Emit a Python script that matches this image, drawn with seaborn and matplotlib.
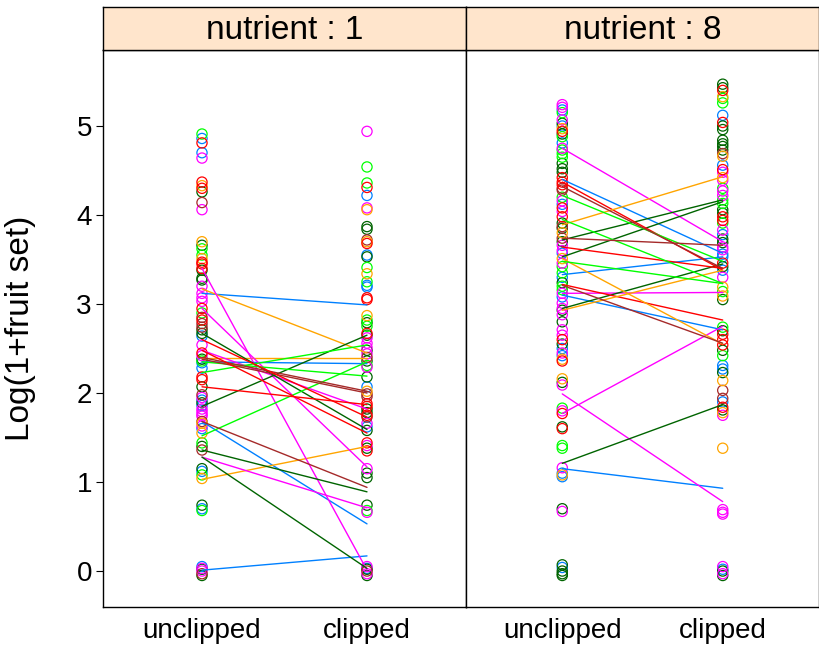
import numpy as np
import pandas as pd
import seaborn as sns
import matplotlib.pyplot as plt

# lattice default superpose colours, keyed by a letter
palette = {"B": "#0080ff", "M": "#ff00ff", "D": "#006400", "R": "#ff0000",
           "O": "#ffa500", "G": "#00ff00", "N": "#a52a2a"}
treatments = ["unclipped", "clipped"]
panel_titles = ["nutrient : 1", "nutrient : 8"]

# observed points: value, colour letter
p1_unclipped_y = [4.91, 4.86, 4.81, 4.70, 4.64, 4.37, 4.33, 4.30, 4.26, 4.14, 4.06, 3.70, 3.66, 3.62,
                  3.55, 3.51, 3.47, 3.45, 3.40, 3.38, 3.29, 3.27, 3.20, 3.12, 3.07, 3.03, 2.95, 2.90,
                  2.85, 2.82, 2.78, 2.74, 2.71, 2.67, 2.64, 2.54, 2.45, 2.42, 2.38, 2.36, 2.34, 2.28,
                  2.18, 2.15, 2.07, 1.98, 1.95, 1.92, 1.89, 1.86, 1.82, 1.79, 1.76, 1.74, 1.68, 1.66,
                  1.63, 1.60, 1.55, 1.44, 1.40, 1.36, 1.15, 1.12, 1.08, 1.04, 0.74, 0.70, 0.68, 0.05,
                  0.02, 0.00, -0.03, -0.05, 0.03]
p1_unclipped_c = list("GBRBMRORDNMODGGORRRDDDMMMMRGNRNNDDBMRMDGBBRRDNMBDBMMMMNOMBOGDNDBGODBGBDMNDM")

p1_clipped_y = [4.94, 4.54, 4.36, 4.31, 4.22, 4.08, 4.06, 3.87, 3.84, 3.72, 3.70, 3.68, 3.55, 3.53,
                3.41, 3.34, 3.25, 3.21, 3.19, 3.07, 3.05, 2.87, 2.82, 2.79, 2.75, 2.67, 2.65, 2.62,
                2.56, 2.51, 2.48, 2.44, 2.40, 2.36, 2.31, 2.29, 2.18, 2.07, 2.02, 1.99, 1.96, 1.88,
                1.85, 1.82, 1.78, 1.75, 1.73, 1.66, 1.62, 1.58, 1.44, 1.41, 1.38, 1.35, 1.15, 1.10,
                1.05, 0.74, 0.68, 0.66, 0.05, 0.02, 0.00, -0.03, -0.05, 0.03]
p1_clipped_c = list("MGGRBMODDNORBDGOGBBRROGDGRDMMMDMNDGMDBONNRRDDRNMBDRMDRMDDDGMMDNMDB")

p2_unclipped_y = [5.24, 5.21, 5.18, 5.15, 5.07, 5.03, 5.00, 4.97, 4.94, 4.91, 4.88, 4.81, 4.75, 4.73,
                  4.69, 4.65, 4.58, 4.52, 4.48, 4.42, 4.37, 4.34, 4.30, 4.28, 4.20, 4.16, 4.12, 4.08,
                  4.04, 3.98, 3.91, 3.87, 3.85, 3.80, 3.74, 3.70, 3.66, 3.60, 3.57, 3.51, 3.46, 3.42,
                  3.35, 3.30, 3.24, 3.20, 3.16, 3.12, 3.08, 3.01, 2.95, 2.93, 2.88, 2.80, 2.71, 2.65,
                  2.60, 2.55, 2.50, 2.45, 2.42, 2.38, 2.36, 2.16, 2.12, 2.09, 1.83, 1.80, 1.77, 1.62,
                  1.60, 1.41, 1.38, 1.16, 1.10, 1.06, 1.08, 0.70, 0.67, 0.07, 0.04, 0.00, -0.03, -0.05]
p2_unclipped_c = list("MMBGMDBORDGBMGGGDDDRRRNNGMBRMRDNDONDMMBOMGGBDGGMBMMDMDMMRDBMBORODMGMRDRGGMBBODMDBDDD")

p2_clipped_y = [5.47, 5.43, 5.40, 5.33, 5.31, 5.26, 5.12, 5.04, 5.00, 4.96, 4.84, 4.80, 4.77, 4.73,
                4.69, 4.66, 4.56, 4.51, 4.48, 4.42, 4.39, 4.30, 4.27, 4.22, 4.17, 4.13, 4.06, 4.02,
                3.98, 3.94, 3.91, 3.83, 3.78, 3.73, 3.69, 3.64, 3.61, 3.56, 3.53, 3.46, 3.42, 3.38,
                3.30, 3.19, 3.14, 3.09, 3.05, 2.74, 2.70, 2.66, 2.60, 2.54, 2.48, 2.42, 2.31, 2.27,
                2.23, 2.14, 2.03, 1.94, 1.90, 1.84, 1.81, 1.78, 1.75, 1.38, 0.69, 0.66, 0.64, 0.05,
                0.02, 0.00, -0.03, -0.05]
p2_clipped_c = list("DDROGGBRDDDDDDNOBRMOMGMMGGDDRRGMBDDMMBBRDBMOGODGDRRRDGBBDONNBRDOMOMMMMBDMD")

# genotype means (unclipped -> clipped), one line per genotype
p1_line_c = list("BBBBOOOMMMMDDDDGGGNNNRRR")
p1_line_start = [3.12, 2.35, 1.68, 0.01, 3.17, 2.39, 1.03, 3.40, 2.95, 2.48, 1.28, 2.67,
                 1.85, 1.36, 1.28, 2.23, 2.35, 1.52, 2.40, 2.38, 1.68, 2.60, 2.48, 2.07]
p1_line_end = [2.99, 2.33, 0.53, 0.17, 2.45, 2.39, 1.40, 0.01, 1.17, 1.82, 0.71, 1.59,
               2.65, 0.89, 0.03, 2.54, 2.19, 2.35, 2.02, 2.00, 0.94, 1.73, 1.55, 1.87]

p2_line_c = list("BBBBMMMMDDDDRRROOOGGGNNN")
p2_line_start = [4.40, 3.33, 3.10, 1.15, 4.75, 3.12, 1.77, 1.99, 3.72, 3.53, 2.95, 1.21,
                 4.37, 3.64, 3.22, 3.89, 3.51, 2.93, 4.22, 3.95, 3.48, 4.32, 3.74, 3.21]
p2_line_end = [3.57, 3.53, 2.71, 0.93, 3.70, 3.13, 2.75, 0.78, 4.17, 4.15, 3.45, 1.87,
               3.38, 3.40, 2.82, 4.43, 2.55, 3.38, 3.48, 3.23, 3.23, 3.40, 3.66, 2.56]

sns.set_theme(style="white")
plt.rcParams["font.family"] = ["Liberation Sans", "DejaVu Sans"]
plt.rcParams["text.color"] = "black"
plt.rcParams["axes.labelcolor"] = "black"
plt.rcParams["xtick.color"] = "black"
plt.rcParams["ytick.color"] = "black"

fig = plt.figure(figsize=(8.2, 6.52), dpi=100)
W, H = 820, 652
left, mid, right = 103 / W, 466 / W, 819 / W
bottom, top, strip_top = 1 - 607 / H, 1 - 50 / H, 1 - 7 / H

panels = [
    (p1_unclipped_y, p1_unclipped_c, p1_clipped_y, p1_clipped_c, p1_line_c, p1_line_start, p1_line_end),
    (p2_unclipped_y, p2_unclipped_c, p2_clipped_y, p2_clipped_c, p2_line_c, p2_line_start, p2_line_end),
]
edges = [(left, mid), (mid, right)]

for i, (uy, uc, cy, cc, lc, ls, le) in enumerate(panels):
    x0, x1 = edges[i]
    ax = fig.add_axes([x0, bottom, x1 - x0, top - bottom])
    pts = pd.DataFrame({
        "treatment": [treatments[0]] * len(uy) + [treatments[1]] * len(cy),
        "value": uy + cy,
        "col": uc + cc,
    })
    # fix category order first
    ax.plot(treatments, [np.nan, np.nan])
    for key, grp in pts.groupby("col"):
        ax.scatter(grp["treatment"], grp["value"], s=54, facecolors="none",
                   edgecolors=palette[key], linewidths=0.9, zorder=2)
    lines = pd.DataFrame({"gen": np.repeat(np.arange(len(lc)), 2),
                          "treatment": treatments * len(lc),
                          "value": np.ravel(np.column_stack([ls, le])),
                          "col": np.repeat(lc, 2)})
    for g, grp in lines.groupby("gen"):
        sns.lineplot(data=grp, x="treatment", y="value", color=palette[grp["col"].iloc[0]],
                     linewidth=1.0, sort=False, estimator=None, ax=ax, zorder=3)
    ax.set_xlim(-0.6, 1.6)
    ax.set_ylim(-0.404, 5.854)
    ax.set_xlabel("")
    ax.set_ylabel("")
    ax.tick_params(axis="x", length=0, pad=8, labelsize=20)
    if i == 0:
        ax.set_yticks(range(6))
        ax.tick_params(axis="y", left=True, length=5, width=0.8, pad=3, labelsize=20, direction="out")
        ax.set_ylabel("Log(1+fruit set)", fontsize=24)
        ax.yaxis.set_label_coords(-0.185, 0.5)
    else:
        ax.set_yticks([])
    for sp in ax.spines.values():
        sp.set_color("black")
        sp.set_linewidth(1.0)

    sax = fig.add_axes([x0, top, x1 - x0, strip_top - top])
    sax.set_facecolor("#ffe5cc")
    sax.set_xticks([])
    sax.set_yticks([])
    for sp in sax.spines.values():
        sp.set_color("black")
        sp.set_linewidth(1.0)
    sax.text(0.5, 0.45, panel_titles[i], ha="center", va="center", fontsize=24,
             transform=sax.transAxes)

fig.savefig("out.png", dpi=100)
